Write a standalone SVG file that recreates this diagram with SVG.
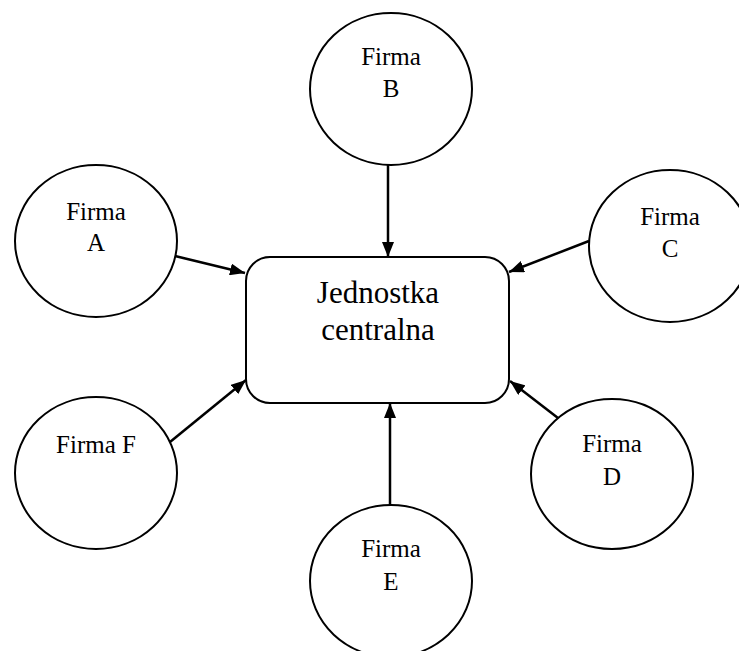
<svg xmlns="http://www.w3.org/2000/svg" width="739" height="651" viewBox="0 0 739 651">
<style>
.n{fill:#fff;stroke:#000;stroke-width:2}
.t{font-family:"Liberation Serif","Times New Roman",serif;font-size:25px;fill:#000;text-anchor:middle}
.tc{font-family:"Liberation Serif","Times New Roman",serif;font-size:31px;fill:#000;text-anchor:middle}
.c{stroke:#000;stroke-width:2.5;fill:none;marker-end:url(#ah)}
</style>
<defs>
<marker id="ah" markerUnits="userSpaceOnUse" markerWidth="16" markerHeight="12" refX="15" refY="6" orient="auto">
<path d="M0,0 L15,6 L0,12 z" fill="#000"/>
</marker>
</defs>
<rect width="739" height="651" fill="#fff"/>
<g id="central">
<rect class="n" x="246" y="257" width="263" height="146" rx="24" ry="24"/>
<text class="tc" x="378" y="303">Jednostka</text>
<text class="tc" x="378" y="340">centralna</text>
</g>
<g id="firmaA">
<ellipse class="n" cx="96" cy="241" rx="81" ry="76"/>
<text class="t" x="96" y="220">Firma</text>
<text class="t" x="96" y="251">A</text>
</g>
<g id="firmaB">
<ellipse class="n" cx="391" cy="89" rx="81" ry="76"/>
<text class="t" x="391" y="65">Firma</text>
<text class="t" x="391" y="97">B</text>
</g>
<g id="firmaC">
<ellipse class="n" cx="670" cy="246" rx="81" ry="76"/>
<text class="t" x="670" y="225">Firma</text>
<text class="t" x="670" y="257">C</text>
</g>
<g id="firmaD">
<ellipse class="n" cx="612" cy="474" rx="81" ry="75"/>
<text class="t" x="612" y="452">Firma</text>
<text class="t" x="612" y="485">D</text>
</g>
<g id="firmaE">
<ellipse class="n" cx="391" cy="581" rx="81" ry="76"/>
<text class="t" x="391" y="557">Firma</text>
<text class="t" x="391" y="590">E</text>
</g>
<g id="firmaF">
<ellipse class="n" cx="96" cy="473" rx="81" ry="76"/>
<text class="t" x="96" y="453">Firma F</text>
</g>
<g id="connectors">
<line class="c" x1="175" y1="256" x2="245" y2="273"/>
<line class="c" x1="388" y1="165" x2="388" y2="257"/>
<line class="c" x1="589" y1="241" x2="509" y2="272"/>
<line class="c" x1="558" y1="418" x2="510" y2="381"/>
<line class="c" x1="390" y1="505" x2="390" y2="403"/>
<line class="c" x1="170" y1="442" x2="246" y2="380"/>
</g>
</svg>
